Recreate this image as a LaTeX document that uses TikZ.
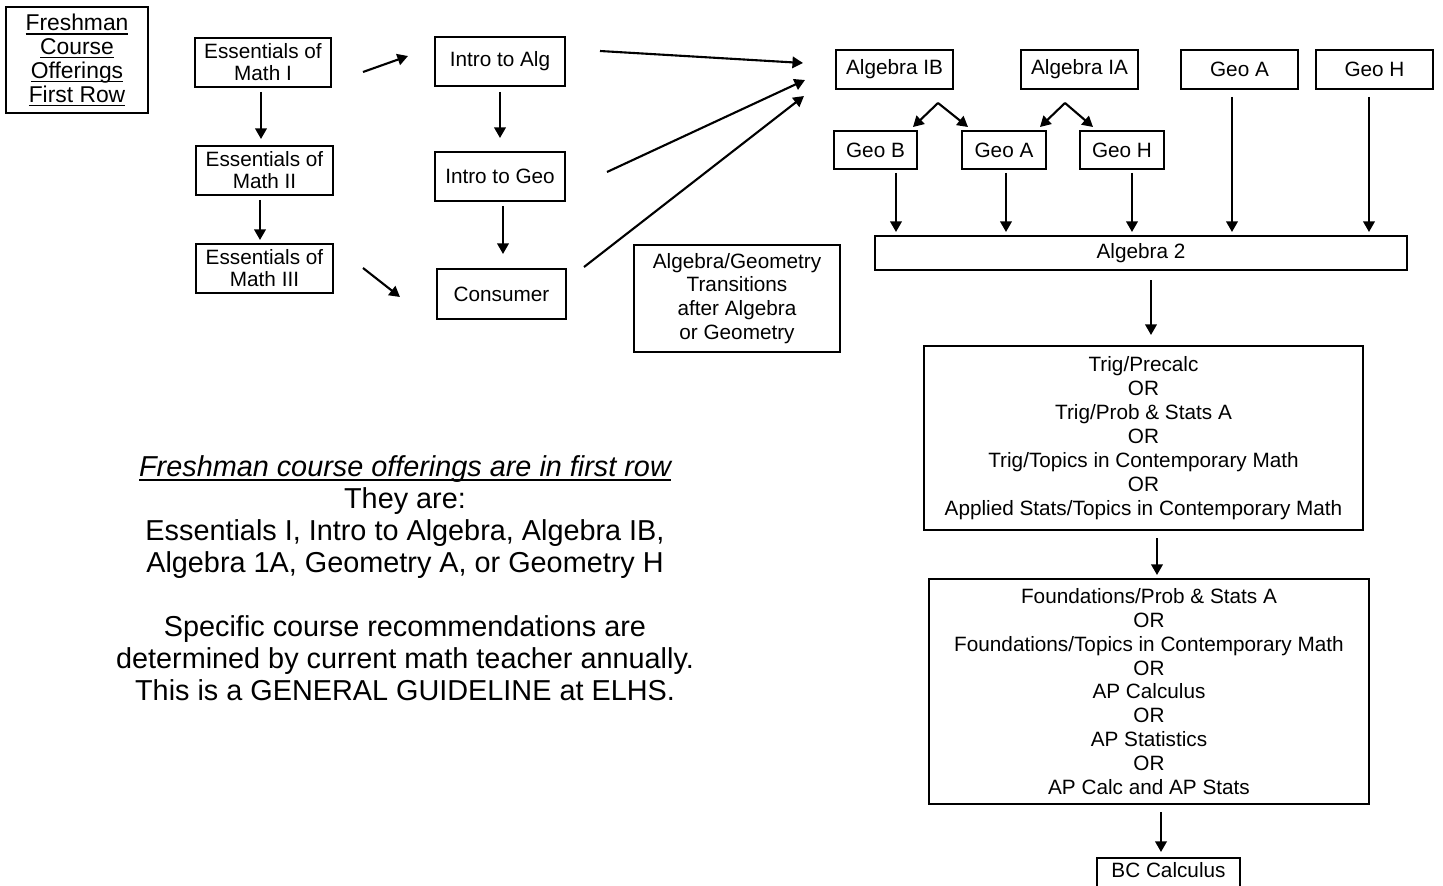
\documentclass[tikz,border=0pt]{standalone}
\usepackage{fontspec}
\setmainfont{Liberation Sans}
\usetikzlibrary{arrows.meta}

\newcommand{\uln}[1]{\setbox0\hbox{#1}\rlap{\rule[-2.4pt]{\wd0}{0.7pt}}\box0}

\tikzset{cbox/.style = {shape = rectangle,
                        draw = black,
                        line width = 1.4pt,
                        inner sep = 0pt,
                        align = center,
                        font = \fontsize{11.8}{13.6}\selectfont},
         boxsize/.style 2 args = {minimum width = #1*0.2mm,
                                  minimum height = #2*0.2mm},
         arr/.style = {line width = 1.2pt,
                       -{Triangle[length=6pt,width=6.5pt]}}}

\begin{document}
\begin{tikzpicture}[x=0.2mm,y=-0.2mm]
		\useasboundingbox (0,0) rectangle (1443,886);
		% first column
		\node[cbox, boxsize={142}{106}, font=\fontsize{13}{13.6}\selectfont] (fresh) at (77,60) {\uln{Freshman}\\\uln{Course}\\\uln{Offerings}\\\uln{First Row}};
		\node[cbox, boxsize={136}{49}, font=\fontsize{11.8}{12.5}\selectfont] (ess1) at (263,62.5) {Essentials of\\Math I};
		\node[cbox, boxsize={137}{49}, font=\fontsize{11.8}{12.5}\selectfont] (ess2) at (264.5,170.5) {Essentials of\\Math II};
		\node[cbox, boxsize={137}{49}, font=\fontsize{11.8}{12.5}\selectfont] (ess3) at (264.5,268.5) {Essentials of\\Math III};
		% second column
		\node[cbox, boxsize={130}{49}] (ialg) at (500,61.5) {Intro to Alg};
		\node[cbox, boxsize={130}{49}] (igeo) at (500,176.5) {Intro to Geo};
		\node[cbox, boxsize={129}{50}] (cons) at (501.5,294) {Consumer};
		\node[cbox, boxsize={206}{107}] (trans) at (737,298.5) {Algebra/Geometry\\Transitions\\after Algebra\\or Geometry};
		% right part
		\node[cbox, boxsize={117}{39}] (alg1b) at (894.5,69.5) {Algebra IB};
		\node[cbox, boxsize={117}{39}] (alg1a) at (1079.5,69.5) {Algebra IA};
		\node[cbox, boxsize={117}{39}] (geoa1) at (1239.5,69.5) {Geo A};
		\node[cbox, boxsize={117}{39}] (geoh1) at (1374.5,69.5) {Geo H};
		\node[cbox, boxsize={83}{38}] (geob) at (875.5,150) {Geo B};
		\node[cbox, boxsize={84}{38}] (geoa2) at (1004,150) {Geo A};
		\node[cbox, boxsize={84}{38}] (geoh2) at (1122,150) {Geo H};
		\node[cbox, boxsize={532}{34}] (alg2) at (1141,253) {Algebra 2};
		\node[cbox, boxsize={439}{184}] (trig) at (1143.5,438) {Trig/Precalc\\OR\\Trig/Prob \& Stats A\\OR\\Trig/Topics in Contemporary Math\\OR\\Applied Stats/Topics in Contemporary Math};
		\node[cbox, boxsize={440}{225}] (found) at (1149,691.5) {Foundations/Prob \& Stats A\\OR\\Foundations/Topics in Contemporary Math\\OR\\AP Calculus\\OR\\AP Statistics\\OR\\AP Calc and AP Stats};
		\node[cbox, minimum width=143*0.2mm, inner ysep=0.8mm, text depth=20pt, anchor=north] (bc) at (1168.5,857) {BC Calculus};
		% notes
		\node[align=center, font=\fontsize{16.4}{18.2}\selectfont] (note) at (405,578) {\uln{\itshape Freshman course offerings are in first row}\\They are:\\Essentials I, Intro to Algebra, Algebra IB,\\Algebra 1A, Geometry A, or Geometry H\\[18.2pt]Specific course recommendations are\\determined by current math teacher annually.\\This is a GENERAL GUIDELINE at ELHS.};
		% arrow ends
		\coordinate (ess1-o) at (261,92);    \coordinate (ess2-i) at (261,139);
		\coordinate (ess2-o) at (260,200);   \coordinate (ess3-i) at (260,240);
		\coordinate (ess1-r) at (363,72);    \coordinate (ialg-l) at (408,56);
		\coordinate (ess3-r) at (363,268);   \coordinate (cons-l) at (400,297);
		\coordinate (ialg-o) at (500,92);    \coordinate (igeo-i) at (500,138);
		\coordinate (igeo-o) at (503,206);   \coordinate (cons-i) at (503,254);
		\coordinate (ialg-r) at (600,51);    \coordinate (alg1b-1) at (803,63);
		\coordinate (igeo-r) at (607,172);   \coordinate (alg1b-2) at (805,80);
		\coordinate (cons-r) at (584,267);   \coordinate (alg1b-3) at (804,96);
		\coordinate (alg1b-o) at (938,103);  \coordinate (geob-i) at (913,127);
		\coordinate (geoa2-i) at (968,127);  \coordinate (alg1a-o) at (1065,103);
		\coordinate (geoa2-j) at (1040,127); \coordinate (geoh2-i) at (1093,127);
		\coordinate (geob-o) at (896,173);   \coordinate (alg2-1) at (896,232);
		\coordinate (geoa2-o) at (1006,173); \coordinate (alg2-2) at (1006,232);
		\coordinate (geoh2-o) at (1132,173); \coordinate (alg2-3) at (1132,232);
		\coordinate (geoa1-o) at (1232,97);  \coordinate (alg2-4) at (1232,232);
		\coordinate (geoh1-o) at (1369,97);  \coordinate (alg2-5) at (1369,232);
		\coordinate (alg2-o) at (1151,280);  \coordinate (trig-i) at (1151,335);
		\coordinate (trig-o) at (1157,538);  \coordinate (found-i) at (1157,575);
		\coordinate (found-o) at (1161,812); \coordinate (bc-i) at (1161,852);
		% arrows
		\path[arr] (ess1-o) edge (ess2-i);
		\path[arr] (ess2-o) edge (ess3-i);
		\path[arr] (ess1-r) edge (ialg-l);
		\path[arr] (ess3-r) edge (cons-l);
		\path[arr] (ialg-o) edge (igeo-i);
		\path[arr] (igeo-o) edge (cons-i);
		\path[arr] (ialg-r) edge (alg1b-1);
		\path[arr] (igeo-r) edge (alg1b-2);
		\path[arr] (cons-r) edge (alg1b-3);
		\path[arr] (alg1b-o) edge (geob-i);
		\path[arr] (alg1b-o) edge (geoa2-i);
		\path[arr] (alg1a-o) edge (geoa2-j);
		\path[arr] (alg1a-o) edge (geoh2-i);
		\path[arr] (geob-o) edge (alg2-1);
		\path[arr] (geoa2-o) edge (alg2-2);
		\path[arr] (geoh2-o) edge (alg2-3);
		\path[arr] (geoa1-o) edge (alg2-4);
		\path[arr] (geoh1-o) edge (alg2-5);
		\path[arr] (alg2-o) edge (trig-i);
		\path[arr] (trig-o) edge (found-i);
		\path[arr] (found-o) edge (bc-i);
\end{tikzpicture}
\end{document}
